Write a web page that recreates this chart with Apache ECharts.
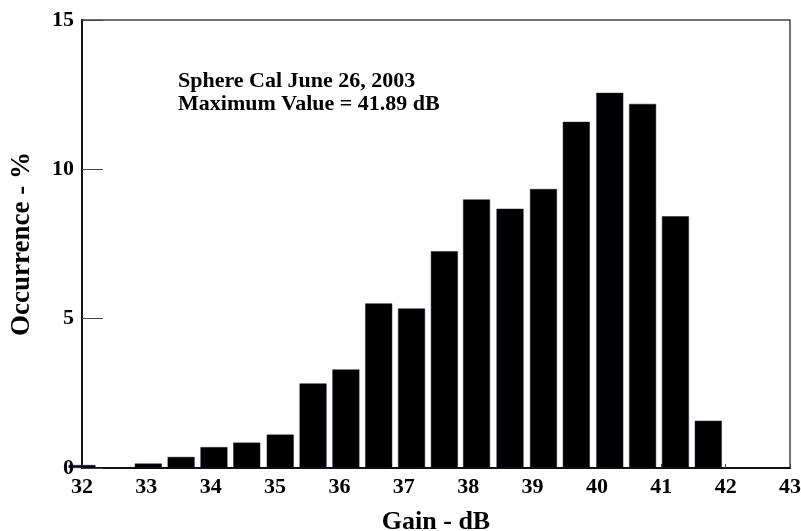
<!DOCTYPE html>
<html>
<head>
<meta charset="utf-8">
<script src="https://cdn.jsdelivr.net/npm/echarts@6/dist/echarts.min.js"></script>
<style>html,body{margin:0;padding:0;background:#fff}#c{width:801px;height:531px}</style>
</head>
<body>
<div id="c"></div>
<script>
// Bin centers (dB)
const gain = [32.0, 33.03, 33.54, 34.05, 34.56, 35.08, 35.59, 36.10, 36.61, 37.12, 37.63, 38.13, 38.65, 39.17, 39.68, 40.20, 40.71, 41.22, 41.73];
// Occurrence (%)
const occurrence = [0.10, 0.15, 0.37, 0.70, 0.85, 1.12, 2.83, 3.30, 5.51, 5.34, 7.26, 8.99, 8.68, 9.34, 11.59, 12.56, 12.19, 8.43, 1.58];
const xTicks = [32, 33, 34, 35, 36, 37, 38, 39, 40, 41, 42, 43];
const yTicks = [0, 5, 10, 15];
const noteLines = ['Sphere Cal June 26, 2003', 'Maximum Value = 41.89 dB'];
const xTitle = 'Gain - dB';
const yTitle = 'Occurrence - %';

const FONT = "'Liberation Serif', 'Times New Roman', serif";
const chart = echarts.init(document.getElementById('c'), null, {renderer: 'canvas'});
chart.setOption({
  animation: false,
  backgroundColor: '#fff',
  grid: {left: 82, top: 20, right: 11, bottom: 63, containLabel: false, outerBoundsMode: 'none',
         show: true, borderColor: '#444', borderWidth: 1.5, backgroundColor: 'transparent'},
  xAxis: {
    type: 'value', min: xTicks[0], max: xTicks[xTicks.length - 1], interval: 1,
    name: xTitle, nameLocation: 'middle', nameGap: 41,
    nameTextStyle: {fontFamily: FONT, fontWeight: 'bold', fontSize: 26, color: '#000'},
    axisLine: {show: true, lineStyle: {color: '#111', width: 2}},
    axisTick: {show: true, inside: true, length: 4, lineStyle: {color: '#444'}},
    axisLabel: {fontFamily: FONT, fontWeight: 'bold', fontSize: 22, color: '#000', margin: 8},
    splitLine: {show: false}
  },
  yAxis: {
    type: 'value', min: yTicks[0], max: yTicks[yTicks.length - 1], interval: 5,
    name: yTitle, nameLocation: 'middle', nameGap: 46,
    nameTextStyle: {fontFamily: FONT, fontWeight: 'bold', fontSize: 27, color: '#000'},
    axisLine: {show: true, lineStyle: {color: '#111', width: 2}},
    axisTick: {show: true, inside: true, length: 21, lineStyle: {color: '#444', width: 1}},
    axisLabel: {fontFamily: FONT, fontWeight: 'bold', fontSize: 22, color: '#000', margin: 8},
    splitLine: {show: false}
  },
  series: [{
    type: 'bar',
    data: gain.map((g, i) => [g, occurrence[i]]),
    barWidth: 27,
    clip: true,
    itemStyle: {color: '#000', borderColor: '#1a1440', borderWidth: 0.5}
  }],
  graphic: [{
    type: 'text', left: 178, top: 70,
    style: {text: noteLines.join('\n'), font: "bold 22px " + FONT, fill: '#000', lineHeight: 23}
  }]
});
</script>
</body>
</html>
